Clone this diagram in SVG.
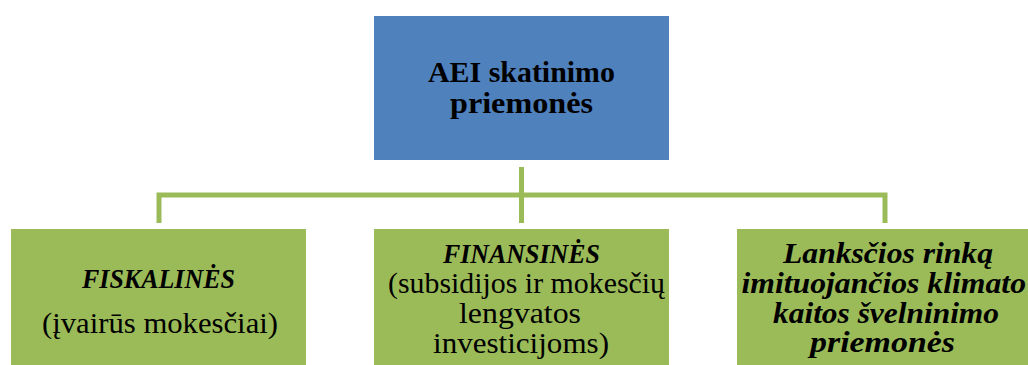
<svg xmlns="http://www.w3.org/2000/svg" width="1028" height="365" viewBox="0 0 1028 365">
<style>
.top{fill:#4F81BD}
.leaf{fill:#9BBB59}
.conn{fill:none;stroke:#9BBB59;stroke-width:5;stroke-linejoin:miter;stroke-linecap:butt}
text{font-family:"Liberation Serif","DejaVu Serif",serif;fill:#000;text-anchor:middle}
.b{font-weight:bold;font-size:30px}
.bi{font-weight:bold;font-style:italic;font-size:29px}
.bc{font-weight:bold;font-style:italic;font-size:27px}
.r{font-size:30px}
</style>
<rect width="1028" height="365" fill="#fff"/>
<g id="connectors">
<path class="conn" d="M521.5 167 V223"/>
<path class="conn" d="M159 223 V195 H885 V223"/>
</g>
<g id="node-root">
<rect class="top" x="374" y="16" width="295" height="144"/>
<text class="b" x="521.5" y="82" textLength="187" lengthAdjust="spacingAndGlyphs">AEI skatinimo</text>
<text class="b" x="521.5" y="113" textLength="143" lengthAdjust="spacingAndGlyphs">priemonės</text>
</g>
<g id="node-fiskalines">
<rect class="leaf" x="11" y="229" width="295" height="136"/>
<text class="bc" x="158.5" y="288" textLength="153" lengthAdjust="spacingAndGlyphs">FISKALINĖS</text>
<text class="r" x="160" y="333" textLength="236" lengthAdjust="spacingAndGlyphs">(įvairūs mokesčiai)</text>
</g>
<g id="node-finansines">
<rect class="leaf" x="374" y="229" width="295" height="136"/>
<text class="bc" x="521.5" y="263" textLength="157" lengthAdjust="spacingAndGlyphs">FINANSINĖS</text>
<text class="r" x="526.5" y="293" textLength="277" lengthAdjust="spacingAndGlyphs">(subsidijos ir mokesčių</text>
<text class="r" x="520" y="323" textLength="122" lengthAdjust="spacingAndGlyphs">lengvatos</text>
<text class="r" x="521" y="353" textLength="176" lengthAdjust="spacingAndGlyphs">investicijoms)</text>
</g>
<g id="node-lankscios">
<rect class="leaf" x="737" y="229" width="295" height="136"/>
<text class="bi" x="888" y="263" textLength="210" lengthAdjust="spacingAndGlyphs">Lanksčios rinką</text>
<text class="bi" x="883.75" y="293" textLength="284.5" lengthAdjust="spacingAndGlyphs">imituojančios klimato</text>
<text class="bi" x="886" y="323" textLength="226" lengthAdjust="spacingAndGlyphs">kaitos švelninimo</text>
<text class="bi" x="882.5" y="352" textLength="145" lengthAdjust="spacingAndGlyphs">priemonės</text>
</g>
</svg>
